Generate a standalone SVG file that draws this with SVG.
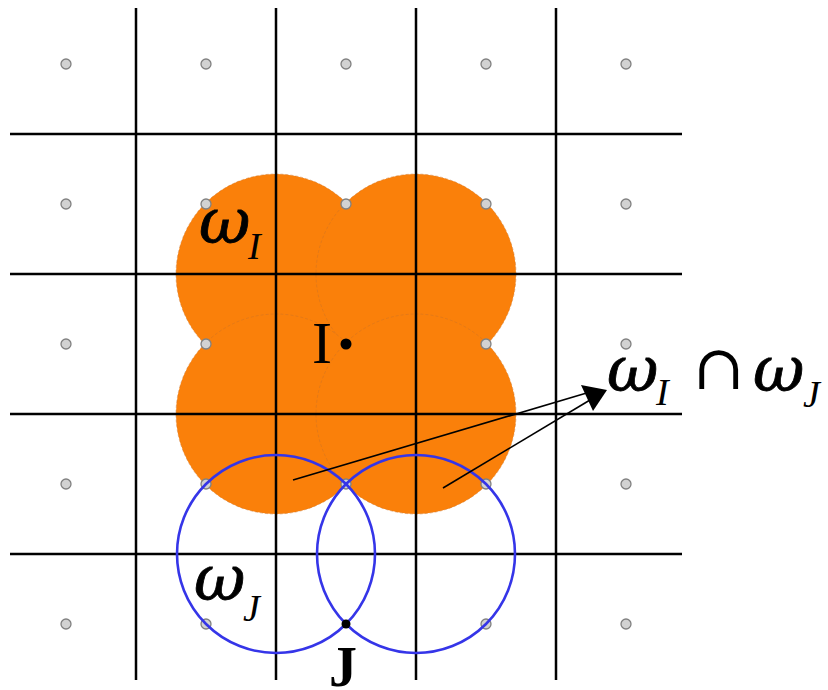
<svg xmlns="http://www.w3.org/2000/svg" width="828" height="690" viewBox="0 0 828 690">
<style>
.orange{fill:#FA800A;stroke:#c8702a;stroke-width:1;stroke-opacity:0.45;stroke-dasharray:3 2}
.grid line{stroke:#000;stroke-width:2.5}
.pt{fill:#d2d2d2;stroke:#808080;stroke-width:1.3}
.blue{fill:none;stroke:#3535e8;stroke-width:2.6}
.lbl{font-family:"Liberation Serif","Times New Roman",serif;fill:#000}
.it{font-style:italic}
.om{font-family:"DejaVu Serif","Liberation Serif",serif;font-style:italic;font-size:63px;stroke:#000;stroke-width:0.8}
.cap{font-family:"DejaVu Serif","Liberation Serif",serif;font-size:62px}
.ptr{stroke:#000;stroke-width:1.6}
</style>
<g id="orange-supports">
<circle class="orange" cx="276" cy="274" r="100"/>
<circle class="orange" cx="416" cy="274" r="100"/>
<circle class="orange" cx="276" cy="414" r="100"/>
<circle class="orange" cx="416" cy="414" r="100"/>
</g>
<g id="grid" class="grid">
<line x1="136" y1="8" x2="136" y2="680"/>
<line x1="276" y1="8" x2="276" y2="680"/>
<line x1="416" y1="8" x2="416" y2="680"/>
<line x1="556" y1="8" x2="556" y2="680"/>
<line x1="10" y1="134" x2="682" y2="134"/>
<line x1="10" y1="274" x2="682" y2="274"/>
<line x1="10" y1="414" x2="682" y2="414"/>
<line x1="10" y1="554" x2="682" y2="554"/>
</g>
<g id="nodes">
<circle class="pt" cx="66" cy="64" r="5"/><circle class="pt" cx="206" cy="64" r="5"/><circle class="pt" cx="346" cy="64" r="5"/><circle class="pt" cx="486" cy="64" r="5"/><circle class="pt" cx="626" cy="64" r="5"/>
<circle class="pt" cx="66" cy="204" r="5"/><circle class="pt" cx="206" cy="204" r="5"/><circle class="pt" cx="346" cy="204" r="5"/><circle class="pt" cx="486" cy="204" r="5"/><circle class="pt" cx="626" cy="204" r="5"/>
<circle class="pt" cx="66" cy="344" r="5"/><circle class="pt" cx="206" cy="344" r="5"/><circle class="pt" cx="486" cy="344" r="5"/><circle class="pt" cx="626" cy="344" r="5"/>
<circle class="pt" cx="66" cy="484" r="5"/><circle class="pt" cx="206" cy="484" r="5"/><circle class="pt" cx="346" cy="484" r="5"/><circle class="pt" cx="486" cy="484" r="5"/><circle class="pt" cx="626" cy="484" r="5"/>
<circle class="pt" cx="66" cy="624" r="5"/><circle class="pt" cx="206" cy="624" r="5"/><circle class="pt" cx="486" cy="624" r="5"/><circle class="pt" cx="626" cy="624" r="5"/>
</g>
<g id="blue-supports">
<circle class="blue" cx="276" cy="554" r="99"/>
<circle class="blue" cx="416" cy="554" r="99"/>
</g>
<g id="node-I">
<circle cx="346" cy="344" r="5.5" fill="#000"/>
<text class="lbl" x="312" y="363" font-size="60">I</text>
</g>
<g id="node-J">
<circle cx="346" cy="624" r="4.5" fill="#000"/>
<text class="lbl" x="329" y="686" font-size="56" font-weight="bold">J</text>
</g>
<g id="label-wI">
<text class="om" x="199" y="243">ω</text>
<text class="lbl it" x="248" y="259" font-size="38">I</text>
</g>
<g id="label-wJ">
<text class="om" x="194" y="600">ω</text>
<text class="lbl it" x="243" y="621" font-size="38">J</text>
</g>
<g id="label-intersection">
<text class="om" x="607" y="391">ω</text>
<text class="lbl it" x="656" y="405" font-size="38">I</text>
<text class="cap" x="693" y="389">∩</text>
<text class="om" x="753" y="391">ω</text>
<text class="lbl it" x="803" y="407" font-size="38">J</text>
</g>
<g id="connectors">
<line class="ptr" x1="293" y1="480" x2="590" y2="392"/>
<line class="ptr" x1="443" y1="488" x2="590" y2="400"/>
<polygon points="607,390 581,385 593,411" fill="#000"/>
</g>
</svg>
